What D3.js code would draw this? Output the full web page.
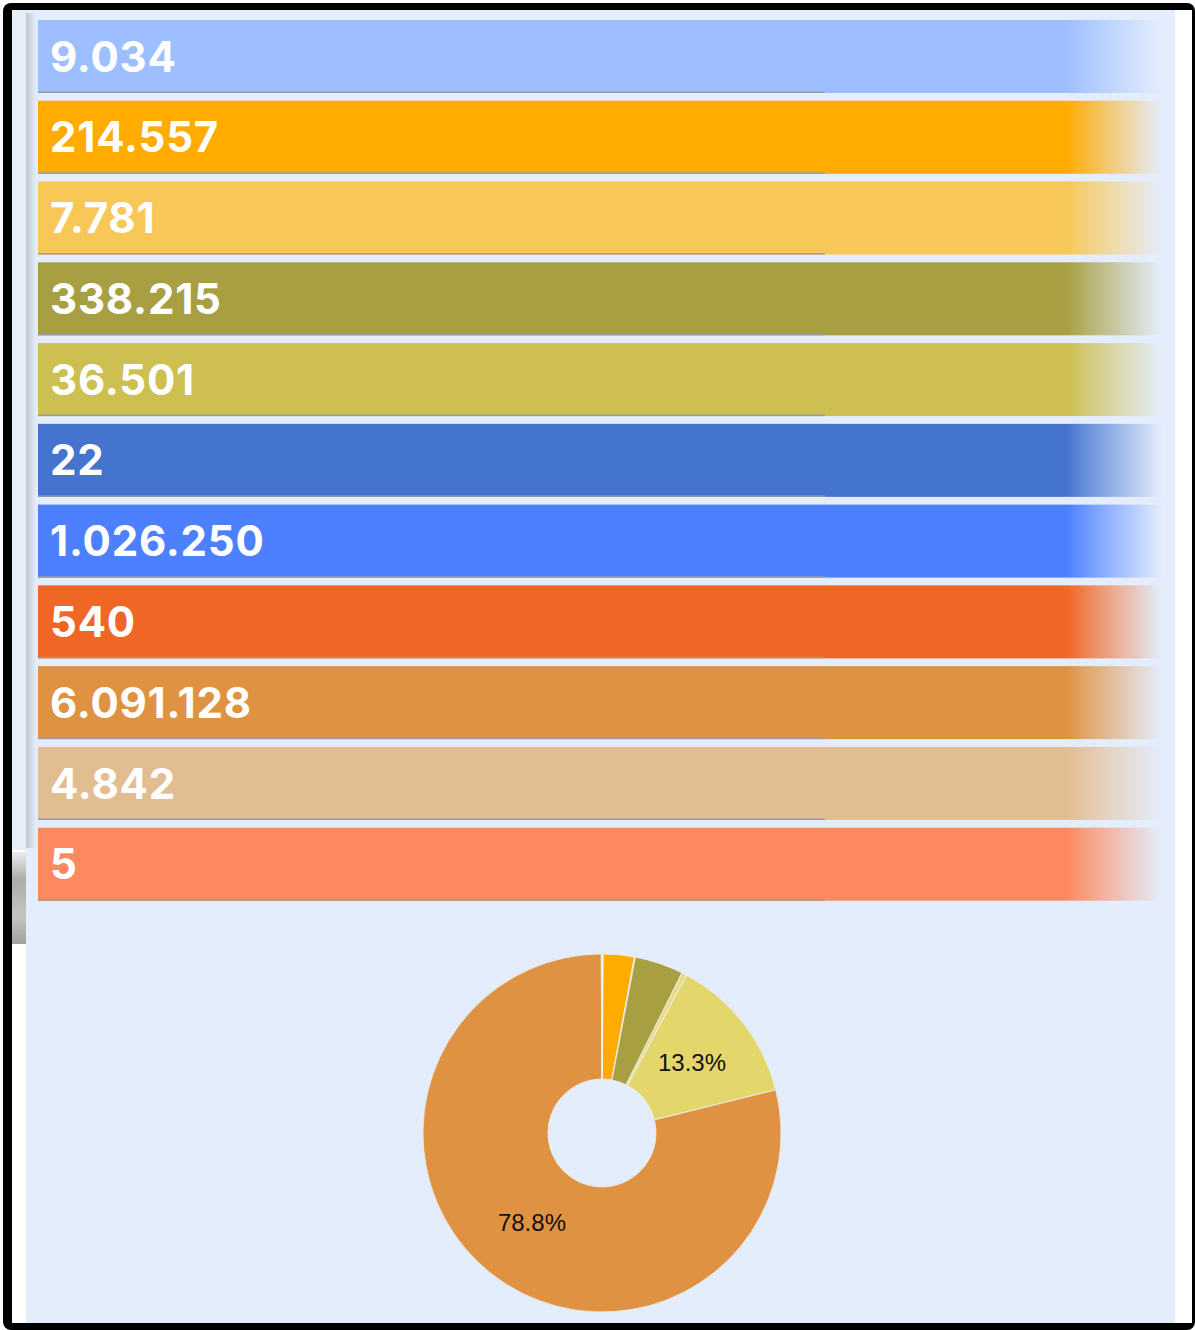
<!DOCTYPE html>
<html lang="de">
  <head>
    <meta charset="UTF-8" />
    <title>Werte</title>
    <script src="https://d3js.org/d3.v7.min.js"></script>
    <style>
      body {
        margin: 0;
        background: #fff;
      }

      svg {
        display: block;
      }

      .bar-label {
        font-family: "Inter", "DejaVu Sans", sans-serif;
        font-weight: 700;
        font-size: 42px;
        letter-spacing: 0.8px;
        fill: #fff;
      }

      .pie-label {
        font-family: "Liberation Sans", Arial, sans-serif;
        font-size: 24px;
        fill: #111;
      }
    </style>
  </head>
  <body>
    <svg id="chart"></svg>

    <script>
      // one row per value, same order as the page
      const keys = ["a", "b", "c", "d", "e", "f", "g", "h", "i", "j", "k"];
      const values = [9034, 214557, 7781, 338215, 36501, 22, 1026250, 540, 6091128, 4842, 5];
      const barColors = ["#9dbfff", "#ffab00", "#f7c857", "#a89f42", "#cdbf50", "#4574cf", "#4c80ff", "#f06624", "#df9241", "#e3bd92", "#fc895f"];
      const pieColors = ["#b9c9e8", "#ffab00", "#f7c857", "#a89f42", "#e8dc8a", "#4574cf", "#e3d76c", "#f06624", "#df9241", "#e3bd92", "#fc895f"];

      const width = 1195;
      const height = 1330;
      const bg = "#e4edfc";

      const svg = d3.select("#chart").attr("width", width).attr("height", height);
      const defs = svg.append("defs");

      // frame
      svg.append("rect").attr("x", 3).attr("y", 3).attr("width", 1192).attr("height", 1327).attr("rx", 8).attr("fill", "#000");
      svg.append("rect").attr("x", 12).attr("y", 10).attr("width", 1180).attr("height", 1313).attr("fill", "#fff");
      svg.append("rect").attr("x", 26).attr("y", 10).attr("width", 1149).attr("height", 1313).attr("fill", bg);
      svg.append("rect").attr("x", 12).attr("y", 10).attr("width", 14).attr("height", 840).attr("fill", "#e6eefa");

      const shade = defs.append("linearGradient").attr("id", "shade");
      shade.append("stop").attr("offset", 0).attr("stop-color", "#c3c8d0");
      shade.append("stop").attr("offset", 1).attr("stop-color", bg);
      svg.append("rect").attr("x", 26).attr("y", 13).attr("width", 10).attr("height", 835).attr("fill", "url(#shade)");

      const knob = defs.append("linearGradient").attr("id", "knob").attr("x1", 0).attr("y1", 0).attr("x2", 0).attr("y2", 1);
      knob.append("stop").attr("offset", 0).attr("stop-color", "#ececec");
      knob.append("stop").attr("offset", 0.3).attr("stop-color", "#acacac");
      knob.append("stop").attr("offset", 0.7).attr("stop-color", "#c4c4c4");
      knob.append("stop").attr("offset", 1).attr("stop-color", "#a0a0a0");
      svg.append("rect").attr("x", 12).attr("y", 852).attr("width", 14).attr("height", 92).attr("fill", "url(#knob)");

      // bars
      const x = d3.scaleLinear().domain([0, 1]).range([38, 1162]);
      const y = d3.scaleBand().domain(keys).range([20, 900.7]).paddingInner(0.096);
      const fmt = d3.formatLocale({ decimal: ",", thousands: ".", grouping: [3], currency: ["", "€"] }).format(",d");

      keys.forEach((k, i) => {
        const g = defs.append("linearGradient").attr("id", `fade-${k}`);
        g.append("stop").attr("offset", 0).attr("stop-color", barColors[i]);
        g.append("stop").attr("offset", 0.915).attr("stop-color", barColors[i]);
        g.append("stop").attr("offset", 0.935).attr("stop-color", barColors[i]).attr("stop-opacity", 0.75);
        g.append("stop").attr("offset", 1).attr("stop-color", barColors[i]).attr("stop-opacity", 0);
      });

      const rows = svg
        .selectAll(".row")
        .data(keys)
        .enter()
        .append("g")
        .attr("class", "row")
        .attr("transform", (d) => `translate(0, ${y(d)})`);

      rows
        .append("rect")
        .attr("x", x(0))
        .attr("width", x(1) - x(0))
        .attr("height", y.bandwidth())
        .attr("fill", (d) => `url(#fade-${d})`);

      rows
        .append("rect")
        .attr("x", x(0))
        .attr("y", y.bandwidth() - 1.5)
        .attr("width", x(0.7) - x(0))
        .attr("height", 1.5)
        .attr("fill", "#979ca4");

      rows
        .append("text")
        .attr("class", "bar-label")
        .attr("x", 50)
        .attr("y", y.bandwidth() / 2)
        .attr("dy", "0.36em")
        .text((d, i) => fmt(values[i]));

      // donut
      const cx = 602;
      const cy = 1133;
      const pie = d3.pie().sort(null).value((d) => d);
      const arc = d3.arc().innerRadius(54).outerRadius(179);
      const labelArc = d3.arc().innerRadius(114).outerRadius(114);
      const total = d3.sum(values);
      const pct = d3.format(".1%");

      const pg = svg.append("g").attr("transform", `translate(${cx}, ${cy})`);
      const slices = pie(values);

      pg.selectAll("path")
        .data(slices)
        .enter()
        .append("path")
        .attr("d", arc)
        .attr("fill", (d, i) => pieColors[i])
        .attr("stroke", "#eef2f8")
        .attr("stroke-width", 0.7);

      pg.selectAll("text")
        .data(slices.filter((d) => d.value / total > 0.05))
        .enter()
        .append("text")
        .attr("class", "pie-label")
        .attr("text-anchor", "middle")
        .attr("dy", "0.35em")
        .attr("transform", (d) => `translate(${labelArc.centroid(d)})`)
        .text((d) => pct(d.value / total));
    </script>
  </body>
</html>
